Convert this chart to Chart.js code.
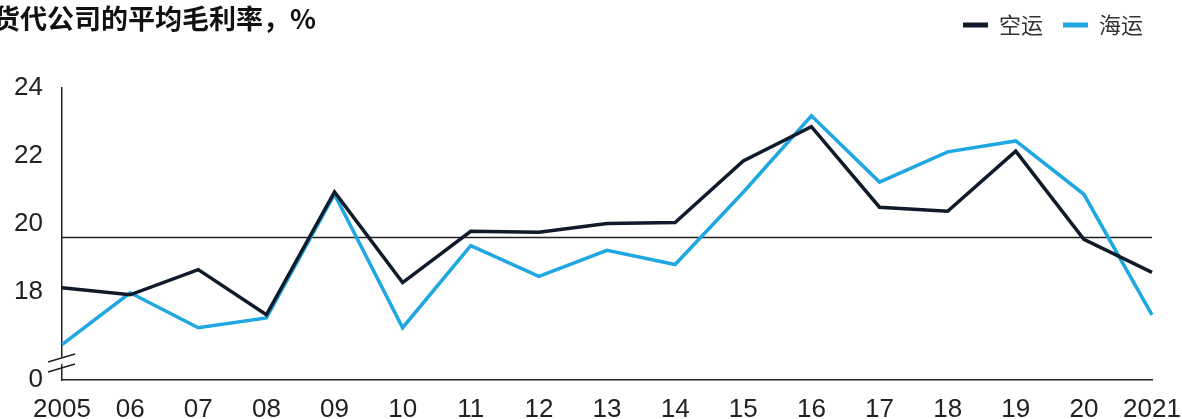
<!DOCTYPE html>
<html lang="zh-CN">
<head>
  <meta charset="UTF-8">
  <title>货代公司的平均毛利率</title>
  <script src="https://cdn.jsdelivr.net/npm/chart.js"></script>
  <style>
    body {
      margin: 0;
      background: #fff;
    }

    #wrap {
      position: relative;
      width: 1182px;
      height: 419px;
      overflow: hidden;
      background: #fff;
    }

    /* 标题放在画布上面，左边故意裁掉一点 */
    #title {
      position: absolute;
      left: -7px;
      top: 3px;
      font-family: "Noto Sans CJK SC", sans-serif;
      font-weight: bold;
      font-size: 27px;
      line-height: 30px;
      color: #111;
      white-space: nowrap;
      z-index: 2;
    }

    canvas {
      position: absolute;
      left: 0;
      top: 0;
    }
  </style>
</head>
<body>

  <div id="wrap">
    <div id="title">货代公司的平均毛利率，%</div>
    <canvas id="marginChart" width="1182" height="419"></canvas>
  </div>

  <script>
    // 年份与两条序列（%）
    const years = ['2005', '06', '07', '08', '09', '10', '11', '12', '13', '14', '15', '16', '17', '18', '19', '20', '2021'];
    const airFreight = [18.12, 17.91, 18.65, 17.32, 20.94, 18.27, 19.78, 19.75, 20.01, 20.04, 21.85, 22.86, 20.49, 20.37, 22.14, 19.54, 18.57];
    const seaFreight = [16.44, 17.97, 16.94, 17.23, 20.87, 16.94, 19.36, 18.45, 19.22, 18.80, 20.93, 23.18, 21.23, 22.12, 22.44, 20.87, 17.32];

    // 纵轴：截断轴，底部标 0
    const yTicks = [18, 20, 22, 24];
    const axisFloor = 15.4;
    const floorLabel = '0';
    const refLevel = 19.6;

    const inkColor = '#222';
    const numFont = '"Liberation Sans", Arial, sans-serif';

    // 水平参考线
    const refLinePlugin = {
      id: 'refLine',
      beforeDatasetsDraw(chart) {
        const { ctx, chartArea, scales } = chart;
        const y = Math.round(scales.y.getPixelForValue(refLevel)) + 0.5;
        ctx.save();
        ctx.strokeStyle = inkColor;
        ctx.lineWidth = 1.5;
        ctx.beginPath();
        ctx.moveTo(chartArea.left, y);
        ctx.lineTo(chartArea.right, y);
        ctx.stroke();
        ctx.restore();
      }
    };

    // 纵轴底部的截断符号
    const axisBreakPlugin = {
      id: 'axisBreak',
      afterDraw(chart) {
        const { ctx, chartArea } = chart;
        const x = chartArea.left;
        const base = chartArea.bottom;
        ctx.save();
        // 两条斜线之间留白
        ctx.fillStyle = '#fff';
        ctx.beginPath();
        ctx.moveTo(x - 3, base - 15);
        ctx.lineTo(x + 3, base - 17);
        ctx.lineTo(x + 3, base - 24);
        ctx.lineTo(x - 3, base - 22);
        ctx.closePath();
        ctx.fill();
        ctx.strokeStyle = inkColor;
        ctx.lineWidth = 1.5;
        ctx.beginPath();
        ctx.moveTo(x - 14, base - 18);
        ctx.lineTo(x + 13, base - 26);
        ctx.moveTo(x - 14, base - 8);
        ctx.lineTo(x + 13, base - 16);
        ctx.stroke();
        ctx.restore();
      }
    };

    // 图例下方留出空白，并把图例整体上提一点
    const legendGapPlugin = {
      id: 'legendGap',
      beforeInit(chart) {
        const origFit = chart.legend.fit;
        chart.legend.fit = function () {
          origFit.call(this);
          this.height += 36;
        };
      },
      afterLayout(chart) {
        chart.legend.top -= 6;
      }
    };

    new Chart(document.getElementById('marginChart'), {
      type: 'line',
      data: {
        labels: years,
        datasets: [
          {
            label: '空运',
            data: airFreight,
            borderColor: '#0f1b2a',
            backgroundColor: '#0f1b2a',
            borderWidth: 3.5,
            pointRadius: 0,
            tension: 0
          },
          {
            label: '海运',
            data: seaFreight,
            borderColor: '#1ea7e0',
            backgroundColor: '#1ea7e0',
            borderWidth: 3.5,
            pointRadius: 0,
            tension: 0
          }
        ]
      },
      options: {
        responsive: false,
        animation: false,
        devicePixelRatio: 1,
        layout: { padding: { top: 0, left: 0, right: 19, bottom: 0 } },
        plugins: {
          legend: {
            position: 'top',
            align: 'end',
            labels: {
              boxWidth: 25,
              boxHeight: 5,
              padding: 20,
              color: '#333',
              font: { family: '"Noto Sans CJK SC", sans-serif', size: 22 },
              generateLabels(chart) {
                return chart.data.datasets.map((ds, i) => ({
                  text: ds.label,
                  fillStyle: ds.borderColor,
                  strokeStyle: ds.borderColor,
                  lineWidth: 0,
                  fontColor: '#333',
                  datasetIndex: i
                }));
              }
            }
          },
          tooltip: { enabled: false }
        },
        scales: {
          x: {
            grid: { display: false, drawTicks: false },
            border: { display: true, color: inkColor, width: 1.5 },
            ticks: {
              color: inkColor,
              padding: 14,
              maxRotation: 0,
              autoSkip: false,
              font: { family: numFont, size: 26 }
            },
            afterFit(scale) {
              scale.height = 39;
              scale.paddingRight = 30;
            }
          },
          y: {
            min: axisFloor,
            max: 24,
            grid: { display: false, drawTicks: false },
            border: { display: true, color: inkColor, width: 1.5 },
            ticks: {
              color: inkColor,
              padding: 19,
              font: { family: numFont, size: 26 },
              callback: value => value < yTicks[0] ? floorLabel : value
            },
            afterBuildTicks(scale) {
              scale.ticks = [axisFloor, ...yTicks].map(v => ({ value: v }));
            },
            afterFit(scale) { scale.width = 62; }
          }
        }
      },
      plugins: [legendGapPlugin, refLinePlugin, axisBreakPlugin]
    });
  </script>

</body>
</html>
